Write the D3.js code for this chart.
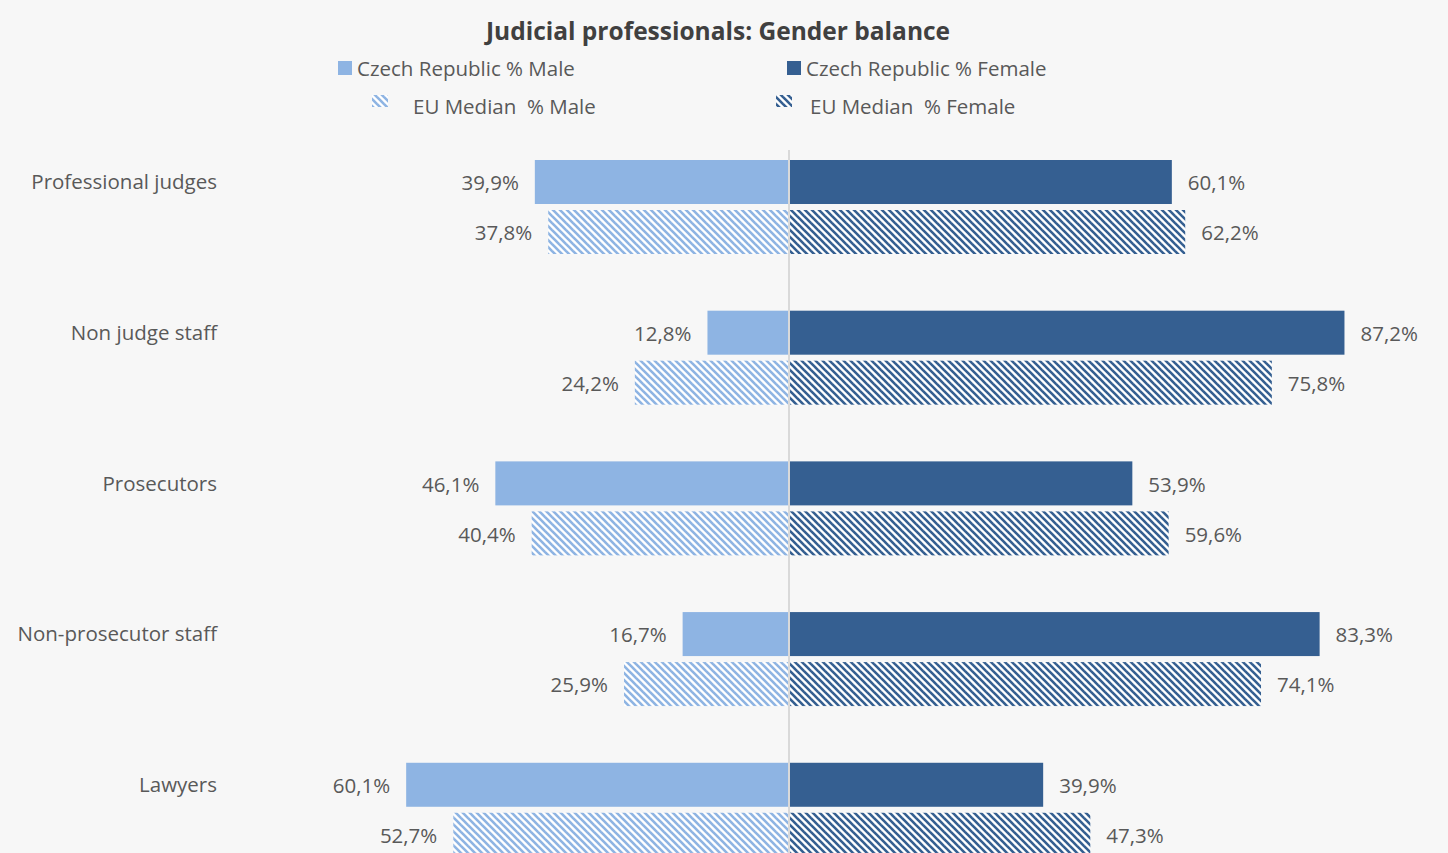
<!DOCTYPE html>
<html><head><meta charset="utf-8">
<script src="https://cdn.jsdelivr.net/npm/d3@7"></script>
<style>
html,body{margin:0;padding:0;background:#f7f7f7;overflow:hidden;}
text{font-family:"Open Sans",sans-serif;}
</style></head>
<body><svg id="c" width="1448" height="853"></svg>
<script>
const categories = ["Professional judges","Non judge staff","Prosecutors","Non-prosecutor staff","Lawyers"];
const czMale   = [39.9, 12.8, 46.1, 16.7, 60.1];
const czFemale = [60.1, 87.2, 53.9, 83.3, 39.9];
const euMale   = [37.8, 24.2, 40.4, 25.9, 52.7];
const euFemale = [62.2, 75.8, 59.6, 74.1, 47.3];
const seriesNames = ["Czech Republic % Male","Czech Republic % Female","EU Median  % Male","EU Median  % Female"];
const title = "Judicial professionals: Gender balance";

const lightBlue = "#8eb4e3", darkBlue = "#355f91", txt = "#595959", titleCol = "#404040";
const svg = d3.select("#c");
svg.append("rect").attr("width",1448).attr("height",853).attr("fill","#f7f7f7");

const defs = svg.append("defs");
function hatch(id, color){
  const s = 7;
  const p = defs.append("pattern").attr("id",id).attr("patternUnits","userSpaceOnUse")
    .attr("width",s).attr("height",s);
  p.append("rect").attr("width",s).attr("height",s).attr("fill","#ffffff");
  [[-1,-1,s+1,s+1],[-s-1,-1,1,s+1],[s-1,-1,2*s+1,s+1]].forEach(l=>{
    p.append("line").attr("x1",l[0]).attr("y1",l[1]).attr("x2",l[2]).attr("y2",l[3])
     .attr("stroke",color).attr("stroke-width",2.6);
  });
}
hatch("hL", lightBlue); hatch("hD", darkBlue);

const cx = 789, pxPer = 6.37;
const xR = d3.scaleLinear().domain([0,100]).range([cx, cx + 100*pxPer]);
const xL = d3.scaleLinear().domain([0,100]).range([cx, cx - 100*pxPer]);
const y = d3.scaleBand().domain(categories).range([160, 856.8]).paddingInner(0.376).paddingOuter(0);
const yi = d3.scaleBand().domain(["cz","eu"]).range([0, 94]).paddingInner(0.12).paddingOuter(0);

// title
svg.append("text").attr("x",718).attr("y",40).attr("text-anchor","middle")
  .attr("font-size",24.5).attr("font-weight","bold").attr("fill",titleCol).text(title);

// legend
const lg = [
  {x:338, y:61, fill:lightBlue, tx:357, ty:76, name:seriesNames[0], w:14, h:14},
  {x:787, y:61, fill:darkBlue, tx:806, ty:76, name:seriesNames[1], w:14, h:14},
  {x:372, y:95, fill:"url(#hL)", tx:413, ty:114, name:seriesNames[2], w:16, h:12},
  {x:776, y:95, fill:"url(#hD)", tx:810, ty:114, name:seriesNames[3], w:16, h:12}
];
lg.forEach(d=>{
  svg.append("rect").attr("x",d.x).attr("y",d.y).attr("width",d.w).attr("height",d.h).attr("fill",d.fill);
  svg.append("text").attr("x",d.tx).attr("y",d.ty).attr("font-size",20.5).attr("fill",txt)
    .attr("xml:space","preserve").text(d.name);
});

const fmt = v => d3.format(".1f")(v).replace(".",",") + "%";

const rows = [];
categories.forEach((c,i)=>{
  rows.push({c, k:"cz", side:"L", v:czMale[i], fill:lightBlue});
  rows.push({c, k:"cz", side:"R", v:czFemale[i], fill:darkBlue});
  rows.push({c, k:"eu", side:"L", v:euMale[i], fill:"url(#hL)"});
  rows.push({c, k:"eu", side:"R", v:euFemale[i], fill:"url(#hD)"});
});

const g = svg.append("g");
g.selectAll("rect.bar").data(rows).join("rect").attr("class","bar")
  .attr("x", d => d.side==="L" ? xL(d.v) : cx)
  .attr("y", d => y(d.c) + yi(d.k))
  .attr("width", d => d.side==="L" ? cx - xL(d.v) : xR(d.v) - cx)
  .attr("height", yi.bandwidth())
  .attr("fill", d => d.fill);

g.selectAll("text.val").data(rows).join("text").attr("class","val")
  .attr("x", d => d.side==="L" ? xL(d.v) - 16 : xR(d.v) + 16)
  .attr("y", d => y(d.c) + yi(d.k) + yi.bandwidth()/2 + 1)
  .attr("dy","0.35em")
  .attr("text-anchor", d => d.side==="L" ? "end" : "start")
  .attr("font-size",20.5).attr("fill",txt)
  .text(d => fmt(d.v));

// category labels
svg.selectAll("text.cat").data(categories).join("text").attr("class","cat")
  .attr("x",217).attr("y", d => y(d) + yi("cz") + yi.bandwidth()/2)
  .attr("dy","0.35em").attr("text-anchor","end")
  .attr("font-size",20.5).attr("fill",txt).text(d=>d);

// center axis line
svg.append("line").attr("x1",cx).attr("x2",cx).attr("y1",150).attr("y2",853)
  .attr("stroke","#d9d9d9").attr("stroke-width",2);
</script>
</body></html>
